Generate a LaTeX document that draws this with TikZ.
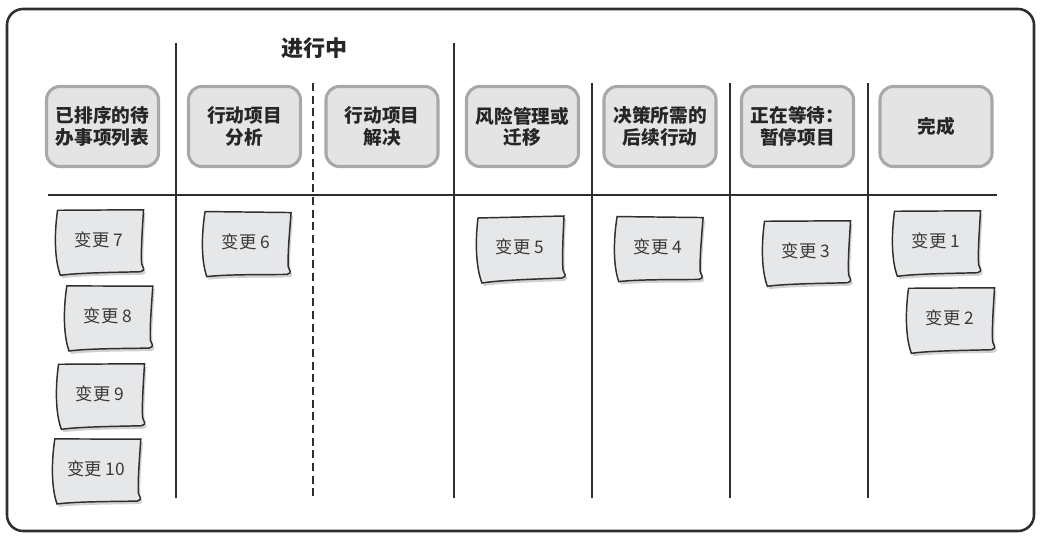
\documentclass[tikz,border=0pt]{standalone}
\usepackage{fontspec}
\setmainfont{Noto Sans CJK SC}
\definecolor{hdrfill}{HTML}{E4E4E4}
\definecolor{hdrline}{HTML}{A8A8A8}
\definecolor{notefill}{HTML}{E6E7E9}
\definecolor{notetxt}{HTML}{3A3A3A}
\definecolor{frame}{HTML}{2E2E2E}
\tikzset{
  hdr/.style={draw=hdrline, line width=2.3pt, fill=hdrfill, rounded corners=10pt,
    minimum width=84pt, minimum height=60pt, inner sep=0pt, align=center,
    font=\bfseries\fontsize{14pt}{16pt}\selectfont, text=black!85},
  divider/.style={draw=frame, line width=1.4pt},
  notebg/.style={draw=frame, line width=1.1pt, fill=notefill},
  noteshadow/.style={fill=black, opacity=0.18, draw=none},
  notetext/.style={font=\fontsize{13pt}{15pt}\selectfont, text=notetxt, inner sep=0pt}
}
\newcommand\stickynote[5]{%
  \begin{scope}[shift={(#2+2,#3+3)},rotate=#5]
    \fill[noteshadow] (-42,-30) -- (44,-32) .. controls (43,-10) and (42,10) .. (43,22)
      .. controls (44,26) and (48,28) .. (42,30) .. controls (20,31) and (-20,32) .. (-38,35)
      .. controls (-44,20) and (-45,-5) .. (-42,-30) -- cycle;
  \end{scope}
  \begin{scope}[shift={(#2,#3)},rotate=#5]
    \filldraw[notebg] (-42,-30) -- (44,-32) .. controls (43,-10) and (42,10) .. (43,22)
      .. controls (44,26) and (48,28) .. (42,30) .. controls (20,31) and (-20,32) .. (-38,35)
      .. controls (-44,20) and (-45,-5) .. (-42,-30) -- cycle;
  \end{scope}
  \node[notetext] (#1) at (#2,#3-1) {#4};
}
\begin{document}
\begin{tikzpicture}[x=0.75pt,y=-0.75pt]
\useasboundingbox (0,0) rectangle (1043,538);
\fill[white] (0,0) rectangle (1043,538);
% outer frame
\draw[draw=frame, line width=1.9pt, rounded corners=12pt] (7,9) rectangle (1034,531);
% dividers
\draw[divider] (176,43) -- (176,498);
\draw[divider] (454,43) -- (454,498);
\draw[divider, dashed, dash pattern=on 6pt off 3.5pt] (313,83) -- (313,498);
\draw[divider] (592,83) -- (592,498);
\draw[divider] (730,83) -- (730,498);
\draw[divider] (868,83) -- (868,498);
\draw[divider] (48,195) -- (997,195);
% title
\node[font=\bfseries\fontsize{16.5pt}{18pt}\selectfont, text=black!85] (title) at (314,48) {进行中};
% headers
\node[hdr] (h1) at (102.5,126.5) {已排序的待\\办事项列表};
\node[hdr] (h2) at (244.5,126.5) {行动项目\\分析};
\node[hdr] (h3) at (382,126.5) {行动项目\\解决};
\node[hdr] (h4) at (522.5,126.5) {风险管理或\\迁移};
\node[hdr] (h5) at (660,126.5) {决策所需的\\后续行动};
\node[hdr] (h6) at (797.5,126.5) {正在等待：\\暂停项目};
\node[hdr] (h7) at (936,126.5) {完成};
% sticky notes
\stickynote{c7}{99}{241}{变更 7}{-1}
\stickynote{c8}{108}{317}{变更 8}{-1.5}
\stickynote{c9}{100}{395}{变更 9}{-1}
\stickynote{c10}{96}{470}{变更 10}{-1.5}
\stickynote{c6}{246}{243}{变更 6}{-2}
\stickynote{c5}{520}{248}{变更 5}{0}
\stickynote{c4}{658}{248}{变更 4}{-2}
\stickynote{c3}{806}{252}{变更 3}{-1}
\stickynote{c1}{936}{242}{变更 1}{-1}
\stickynote{c2}{950}{319}{变更 2}{-1}
\end{tikzpicture}
\end{document}
